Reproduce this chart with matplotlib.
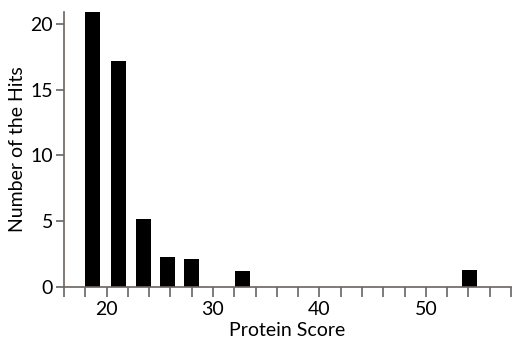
import matplotlib.pyplot as plt
from matplotlib.ticker import MultipleLocator

# histogram bars
score = [18.7, 21.15, 23.5, 25.7, 28.0, 32.8, 54.1]
hits = [21.0, 17.2, 5.17, 2.28, 2.15, 1.24, 1.32]
bar_width = 1.4

x_ticks = [20, 30, 40, 50]
y_ticks = [0, 5, 10, 15, 20]

plt.rcParams['font.family'] = ['Lato', 'DejaVu Sans']
plt.rcParams['font.size'] = 14

fig = plt.figure(figsize=(5.12, 3.41), dpi=100)
ax = fig.add_axes([0.125, 0.158, 0.873, 0.807])

ax.bar(score, hits, width=bar_width, color="black")

ax.set_xlim(16, 58)
ax.set_ylim(0, 20.9)
ax.set_xticks(x_ticks)
ax.set_yticks(y_ticks)
ax.xaxis.set_minor_locator(MultipleLocator(2))

spine_col = "#6b6460"
for s in ["top", "right"]:
    ax.spines[s].set_visible(False)
for s in ["left", "bottom"]:
    ax.spines[s].set_color(spine_col)
    ax.spines[s].set_linewidth(1.2)

ax.tick_params(axis="x", which="both", direction="out", length=7, width=1.2,
               color=spine_col, labelsize=14, pad=3)
ax.tick_params(axis="y", which="major", direction="out", length=6, width=1.2,
               color=spine_col, labelsize=14, pad=2)

ax.set_xlabel("Protein Score", fontsize=14, labelpad=3)
ax.set_ylabel("Number of the Hits", fontsize=14, labelpad=3)

plt.savefig("out.png", dpi=100)
